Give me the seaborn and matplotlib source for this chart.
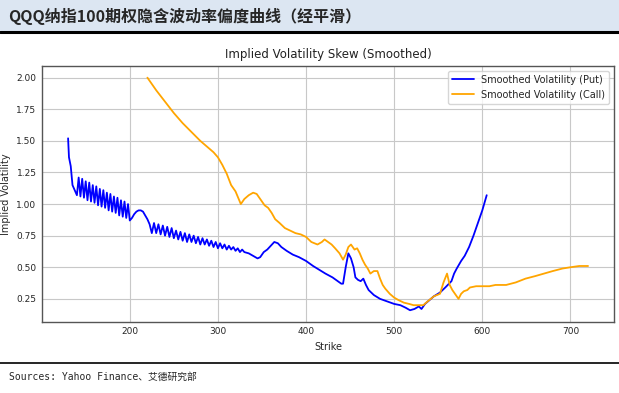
'''
QQQ 期权隐含波动率偏度曲线 (经平滑)
'''

import matplotlib.pyplot as plt
from matplotlib.patches import Rectangle
from matplotlib.lines import Line2D
import pandas as pd
import seaborn as sns

# Put (strike, smoothed IV)
put_strike = [130, 131, 133, 135, 137.5,
              140, 142, 144, 146, 148, 150, 152, 154, 156, 158, 160, 162,
              164, 166, 168, 170, 172, 174, 176, 178, 180, 182, 184, 186,
              188, 190, 192, 194, 196, 198, 200,
              202.5, 205, 207.5, 210, 212.5, 215, 217.5, 220, 222.5,
              225, 227.5, 230, 232.5, 235, 237.5, 240, 242.5, 245, 247.5,
              250, 252.5, 255, 257.5, 260, 262.5, 265, 267.5, 270, 272.5,
              275, 277.5, 280, 282.5, 285, 287.5, 290, 292.5, 295, 297.5,
              300, 302.5, 305, 307.5, 310, 312.5, 315, 317.5, 320, 322.5,
              325, 327.5, 330,
              335, 340, 345, 348, 352, 356, 360, 364, 368, 372, 378, 385,
              392, 400, 408, 415, 422, 430, 436, 440, 442, 445, 448, 451,
              454, 456, 459, 462, 465, 468, 471, 477, 484, 492, 500, 507,
              513, 518, 523, 528, 531, 535, 540, 545, 552, 558, 565, 568,
              571, 576, 580, 585, 590, 595, 600, 605]
put_iv = [1.52, 1.37, 1.30, 1.15, 1.11,
          1.07, 1.21, 1.06, 1.20, 1.05, 1.18, 1.03, 1.17, 1.02, 1.15, 1.01, 1.14,
          0.99, 1.12, 0.98, 1.11, 0.97, 1.09, 0.95, 1.08, 0.94, 1.06, 0.93, 1.05,
          0.91, 1.03, 0.90, 1.02, 0.89, 1.00, 0.87,
          0.89, 0.92, 0.94, 0.95, 0.95, 0.94, 0.91, 0.88, 0.84,
          0.77, 0.85, 0.77, 0.84, 0.76, 0.83, 0.75, 0.82, 0.74, 0.81,
          0.73, 0.79, 0.72, 0.78, 0.71, 0.77, 0.70, 0.76, 0.70, 0.75,
          0.69, 0.74, 0.68, 0.73, 0.68, 0.72, 0.67, 0.71, 0.66, 0.70,
          0.65, 0.69, 0.65, 0.68, 0.64, 0.67, 0.64, 0.66, 0.63, 0.65,
          0.62, 0.64, 0.62,
          0.61, 0.59, 0.57, 0.58, 0.62, 0.64, 0.67, 0.70, 0.69, 0.66, 0.63, 0.60,
          0.58, 0.55, 0.51, 0.48, 0.45, 0.42, 0.39, 0.37, 0.37, 0.50, 0.61, 0.57,
          0.50, 0.42, 0.40, 0.39, 0.41, 0.36, 0.32, 0.28, 0.25, 0.23, 0.21, 0.20,
          0.18, 0.16, 0.17, 0.19, 0.17, 0.21, 0.24, 0.27, 0.30, 0.34, 0.39, 0.45,
          0.49, 0.55, 0.59, 0.66, 0.75, 0.85, 0.95, 1.07]

# Call (strike, smoothed IV)
call_strike = [220, 230, 240, 250, 260, 270, 280, 290, 295, 300, 305, 310,
               315, 320, 323, 326, 330, 335, 340, 344, 348, 353, 357, 361,
               365, 370, 376, 382, 388, 394, 400, 406, 413, 418, 421, 425,
               429, 433, 438, 442, 445, 448, 451, 455, 458, 461, 464, 467,
               470, 473, 477, 481, 484, 487, 490, 495, 500, 505, 511, 517,
               522, 528, 533, 538, 545, 552, 556, 560, 563, 566, 570, 573,
               576, 579, 583, 586, 593, 600, 608, 615, 627, 638, 649, 660,
               670, 680, 691, 700, 710, 720]
call_iv = [2.00, 1.90, 1.81, 1.72, 1.64, 1.57, 1.50, 1.44, 1.41, 1.37, 1.31, 1.24,
           1.15, 1.10, 1.05, 1.00, 1.04, 1.07, 1.09, 1.08, 1.04, 0.99, 0.97, 0.93,
           0.88, 0.85, 0.81, 0.79, 0.77, 0.76, 0.74, 0.70, 0.68, 0.70, 0.72, 0.70,
           0.68, 0.65, 0.61, 0.56, 0.60, 0.66, 0.68, 0.64, 0.65, 0.61, 0.56, 0.52,
           0.49, 0.45, 0.47, 0.47, 0.41, 0.36, 0.33, 0.29, 0.26, 0.24, 0.22, 0.21,
           0.20, 0.20, 0.20, 0.23, 0.27, 0.29, 0.38, 0.45, 0.36, 0.32, 0.28, 0.25,
           0.29, 0.31, 0.32, 0.34, 0.35, 0.35, 0.35, 0.36, 0.36, 0.38, 0.41, 0.43,
           0.45, 0.47, 0.49, 0.50, 0.51, 0.51]

header = 'QQQ纳指100期权隐含波动率偏度曲线（经平滑）'
source = 'Sources: Yahoo Finance、艾德研究部'

sns.set_style('whitegrid', {'grid.color': '#c8c8c8', 'axes.edgecolor': '#555555'})
plt.rcParams['font.family'] = ['DejaVu Sans', 'Noto Sans CJK SC']

df = pd.concat([
    pd.DataFrame({'Strike': put_strike, 'IV': put_iv, 'Type': 'Smoothed Volatility (Put)'}),
    pd.DataFrame({'Strike': call_strike, 'IV': call_iv, 'Type': 'Smoothed Volatility (Call)'}),
])

fig = plt.figure(figsize=(6.19, 3.93), dpi=100)
ax = fig.add_axes([0.068, 0.181, 0.924, 0.651])

sns.lineplot(data=df, x='Strike', y='IV', hue='Type', estimator=None, sort=False,
             palette=['blue', 'orange'], linewidth=1.3, ax=ax)

ax.set_title('Implied Volatility Skew (Smoothed)', fontsize=8.5, color='#222222', pad=6)
ax.set_xlabel('Strike', fontsize=7)
ax.set_ylabel('Implied Volatility', fontsize=7)
ax.tick_params(labelsize=6.5, length=0, pad=4)
ax.set_yticks([0.25, 0.5, 0.75, 1.0, 1.25, 1.5, 1.75, 2.0])
ax.yaxis.set_major_formatter('{x:.2f}')
ax.set_xticks([200, 300, 400, 500, 600, 700])
ax.legend(loc='upper right', fontsize=7, frameon=True, handlelength=2.2)
for s in ax.spines.values():
    s.set_linewidth(1.0)

# bandeau titre
fig.add_artist(Rectangle((0, 1 - 31 / 393), 1, 31 / 393, transform=fig.transFigure,
                         facecolor='#dce6f2', edgecolor='none'))
fig.add_artist(Line2D([0, 1], [1 - 32 / 393] * 2, transform=fig.transFigure,
                      color='black', linewidth=2.2))
fig.text(8 / 619, 1 - 16 / 393, header, fontsize=11.5, fontweight='bold',
         family=['Noto Sans CJK SC'], va='center', ha='left')

# source
fig.add_artist(Line2D([0, 1], [1 - 363 / 393] * 2, transform=fig.transFigure,
                      color='black', linewidth=1.2))
fig.text(9 / 619, 1 - 377 / 393, source, fontsize=7,
         family=['DejaVu Sans Mono', 'Noto Sans CJK SC'], va='center', ha='left')

fig.savefig('out.png', dpi=100)
